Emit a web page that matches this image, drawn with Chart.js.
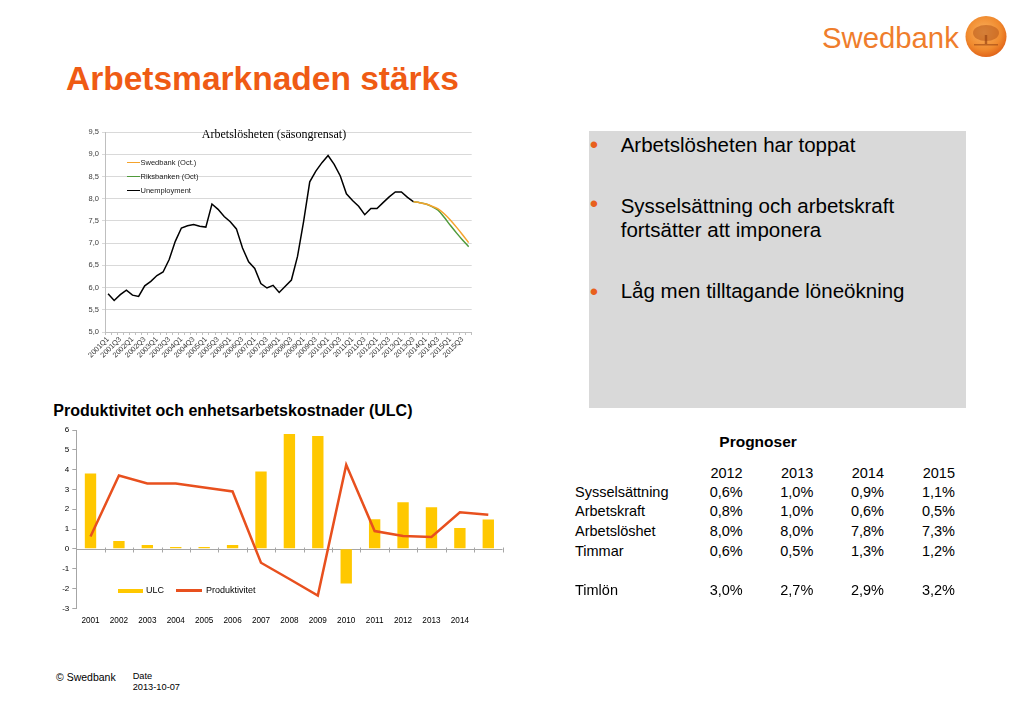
<!DOCTYPE html>
<html><head><meta charset="utf-8">
<script src="https://cdn.jsdelivr.net/npm/chart.js@4/dist/chart.umd.min.js"></script>
<style>
html,body{margin:0;padding:0;background:#fff;}
body{width:1023px;height:708px;position:relative;overflow:hidden;font-family:"Liberation Sans",Arial,sans-serif;color:#000;}
.abs{position:absolute;white-space:nowrap;line-height:1;}
canvas{position:absolute;}
.bul{color:#E8601C;font-size:24px;}
.bt{font-size:20.5px;}
.tb{font-size:14.5px;}
.num{text-align:right;width:60px;}
.lg{font-size:7.5px;color:#222;}
.lgl{position:absolute;height:1.5px;width:13px;}
</style></head>
<body>
<!-- Logo -->
<div class="abs" style="left:822px;top:23px;font-size:29.3px;color:#EF7D2C;">Swedbank</div>
<svg style="position:absolute;left:964px;top:15px" width="44" height="44" viewBox="0 0 44 44">
  <defs><radialGradient id="lg1" cx="45%" cy="40%" r="60%"><stop offset="0" stop-color="#FBB25E"/><stop offset="0.7" stop-color="#F08A2E"/><stop offset="1" stop-color="#E2661A"/></radialGradient></defs>
  <circle cx="22" cy="21.5" r="20.5" fill="url(#lg1)"/>
  <ellipse cx="22" cy="18" rx="13" ry="8" fill="#B5561A" opacity="0.55"/>
  <rect x="20.8" y="20" width="2.4" height="9" fill="#9A4512" opacity="0.7"/>
  <rect x="10" y="29" width="24" height="1.5" fill="#9A4512" opacity="0.6"/>
</svg>

<div class="abs" style="left:66px;top:61.6px;font-size:33.5px;font-weight:bold;color:#EF5B14;">Arbetsmarknaden stärks</div>

<!-- gray box with bullets -->
<div style="position:absolute;left:589px;top:131px;width:377px;height:277px;background:#D9D9D9;"></div>
<div class="abs bul" style="left:589.7px;top:133.4px;">•</div>
<div class="abs bt" style="left:620.7px;top:134.6px;">Arbetslösheten har toppat</div>
<div class="abs bul" style="left:589.7px;top:192.4px;">•</div>
<div class="abs bt" style="left:620.7px;top:195.6px;">Sysselsättning och arbetskraft</div>
<div class="abs bt" style="left:620.7px;top:219.6px;">fortsätter att imponera</div>
<div class="abs bul" style="left:589.7px;top:279.8px;">•</div>
<div class="abs bt" style="left:620.7px;top:280.6px;">Låg men tilltagande löneökning</div>

<!-- top chart -->
<canvas id="c1" width="425" height="250" style="left:55px;top:120px;width:425px;height:250px;"></canvas>
<div class="abs" style="left:174px;top:127.6px;width:200px;text-align:center;font-family:'Liberation Serif',serif;font-size:12px;">Arbetslösheten (säsongrensat)</div>
<div id="leg1"></div>

<!-- bottom chart -->
<div class="abs" style="left:53.3px;top:403.2px;font-size:16px;font-weight:bold;">Produktivitet och enhetsarbetskostnader (ULC)</div>
<canvas id="c2" width="480" height="215" style="left:30px;top:420px;width:480px;height:215px;"></canvas>
<div style="position:absolute;left:118px;top:589px;width:25px;height:4px;background:#FFC800;"></div>
<div class="abs" style="left:146px;top:585.9px;font-size:9px;">ULC</div>
<div style="position:absolute;left:176px;top:589px;width:26px;height:2.5px;background:#E8501E;"></div>
<div class="abs" style="left:206px;top:585.9px;font-size:9px;">Produktivitet</div>

<!-- table -->
<div class="abs" style="left:719.3px;top:434.2px;font-size:15.5px;font-weight:bold;">Prognoser</div>
<div id="tbl"></div>

<!-- footer -->
<div class="abs" style="left:56px;top:672px;font-size:10.5px;">© Swedbank</div>
<div class="abs" style="left:132.7px;top:671.5px;font-size:9.25px;">Date</div>
<div class="abs" style="left:132.7px;top:682.9px;font-size:9.25px;">2013-10-07</div>

<script>
// ---------- Top chart data ----------
const quarters = ['2001Q1','2001Q2','2001Q3','2001Q4','2002Q1','2002Q2','2002Q3','2002Q4',
 '2003Q1','2003Q2','2003Q3','2003Q4','2004Q1','2004Q2','2004Q3','2004Q4',
 '2005Q1','2005Q2','2005Q3','2005Q4','2006Q1','2006Q2','2006Q3','2006Q4',
 '2007Q1','2007Q2','2007Q3','2007Q4','2008Q1','2008Q2','2008Q3','2008Q4',
 '2009Q1','2009Q2','2009Q3','2009Q4','2010Q1','2010Q2','2010Q3','2010Q4',
 '2011Q1','2011Q2','2011Q3','2011Q4','2012Q1','2012Q2','2012Q3','2012Q4',
 '2013Q1','2013Q2','2013Q3','2013Q4','2014Q1','2014Q2','2014Q3','2014Q4',
 '2015Q1','2015Q2','2015Q3','2015Q4'];
const unemployment = [5.86,5.71,5.84,5.94,5.83,5.80,6.04,6.14,6.27,6.35,6.63,7.04,
 7.34,7.39,7.42,7.38,7.36,7.88,7.76,7.60,7.48,7.32,6.89,6.58,6.43,6.09,5.99,6.05,
 5.89,6.03,6.17,6.70,7.49,8.38,8.62,8.81,8.97,8.77,8.51,8.11,7.96,7.83,7.64,7.78,
 7.78,7.91,8.04,8.15,8.15,8.03,7.93];
const forecastStart = '2013Q3';
const swedbankForecast = [7.93,7.91,7.88,7.83,7.77,7.66,7.52,7.36,7.19,7.01];
const riksbankForecast = [7.93,7.91,7.88,7.82,7.74,7.58,7.40,7.23,7.07,6.92];
const seriesNames = ['Swedbank  (Oct.)','Riksbanken (Oct)','Unemployment'];
const seriesColors = ['#F5A32C','#4F9A3A','#000000'];

// ---------- Bottom chart data ----------
const years = ['2001','2002','2003','2004','2005','2006','2007','2008','2009','2010','2011','2012','2013','2014',''];
const ulc = [3.8,0.4,0.2,0.1,0.1,0.2,3.9,5.8,5.7,-1.75,1.5,2.35,2.1,1.05,1.48];
const produktivitet = [0.62,3.7,3.3,3.3,3.1,2.9,-0.7,-1.52,-2.36,4.24,0.9,0.65,0.6,1.85,1.72];

// ---------- Table data ----------
const tableYears = ['2012','2013','2014','2015'];
const tableRows = ['Sysselsättning','Arbetskraft','Arbetslöshet','Timmar','Timlön'];
const sysselsattning = ['0,6%','1,0%','0,9%','1,1%'];
const arbetskraft = ['0,8%','1,0%','0,6%','0,5%'];
const arbetsloshet = ['8,0%','8,0%','7,8%','7,3%'];
const timmar = ['0,6%','0,5%','1,3%','1,2%'];
const timlon = ['3,0%','2,7%','2,9%','3,2%'];

// build table
(function(){
  const colRight = [742.7,813.3,884,955];
  const baselines = [497.3,516.5,536.5,556,595.7];
  const rowsData = [sysselsattning,arbetskraft,arbetsloshet,timmar,timlon];
  let html = '';
  tableYears.forEach((y,i)=>{ html += `<div class="abs tb num" style="left:${colRight[i]-60}px;top:${(478.3-12.27).toFixed(2)}px;">${y}</div>`; });
  tableRows.forEach((r,ri)=>{
    const top = (baselines[ri]-12.27).toFixed(2);
    html += `<div class="abs tb" style="left:575px;top:${top}px;">${r}</div>`;
    rowsData[ri].forEach((v,ci)=>{ html += `<div class="abs tb num" style="left:${colRight[ci]-60}px;top:${top}px;">${v}</div>`; });
  });
  document.getElementById('tbl').innerHTML = html;
  // legend top chart
  const ly = [162.5,176.5,190.5];
  let lh = '';
  seriesNames.forEach((n,i)=>{
    lh += `<div class="lgl" style="left:126.7px;top:${ly[i]-0.75}px;background:${seriesColors[i]};"></div>`;
    lh += `<div class="abs lg" style="left:140.5px;top:${(ly[i]+2.7-6.35).toFixed(2)}px;">${n}</div>`;
  });
  document.getElementById('leg1').innerHTML = lh;
})();

const startIdx = quarters.indexOf(forecastStart);
const pad = arr => Array(startIdx).fill(null).concat(arr);

Chart.defaults.font.family = "'Liberation Sans', Arial, sans-serif";

new Chart(document.getElementById('c1'), {
  type: 'line',
  data: {
    labels: quarters,
    datasets: [
      {label: seriesNames[0], data: pad(swedbankForecast), borderColor: seriesColors[0], borderWidth: 1.5, pointRadius: 0, tension: 0.3, fill: false},
      {label: seriesNames[1], data: pad(riksbankForecast), borderColor: seriesColors[1], borderWidth: 1.5, pointRadius: 0, tension: 0.3, fill: false},
      {label: seriesNames[2], data: unemployment, borderColor: seriesColors[2], borderWidth: 1.5, pointRadius: 0, tension: 0, fill: false}
    ]
  },
  options: {
    responsive: false, animation: false, devicePixelRatio: 1,
    layout: {padding: {top: 12, right: 8.3, left: 0, bottom: 0}},
    plugins: {legend: {display: false}, tooltip: {enabled: false}},
    scales: {
      x: {
        offset: true,
        grid: {display: true, drawOnChartArea: false, offset: true, tickLength: 3, color: '#bfbfbf'},
        border: {color: '#bfbfbf'},
        ticks: {autoSkip: false, maxRotation: 45, minRotation: 45, padding: 0, color: '#333', font: {size: 7.3},
          callback: (v, i) => (i % 2 === 0 ? quarters[i] : '')},
        afterFit: s => { s.height = 38; }
      },
      y: {
        min: 5, max: 9.5,
        ticks: {stepSize: 0.5, padding: 3, color: '#404040', font: {size: 7.5},
          callback: v => Number(v).toFixed(1).replace('.', ',')},
        grid: {color: '#d9d9d9', tickLength: 3},
        border: {color: '#bfbfbf'},
        afterFit: s => { s.width = 50; }
      }
    }
  }
});

const zeroAxis = {
  id: 'zeroAxis',
  beforeDatasetsDraw(chart) {
    const {ctx, chartArea, scales: {x, y}} = chart;
    const y0 = Math.round(y.getPixelForValue(0)) + 0.5;
    const n = chart.data.labels.length;
    const half = (x.getPixelForValue(1) - x.getPixelForValue(0)) / 2;
    ctx.save();
    ctx.strokeStyle = '#a6a6a6'; ctx.lineWidth = 1;
    ctx.beginPath();
    ctx.moveTo(chartArea.left, y0); ctx.lineTo(chartArea.right, y0);
    for (let i = 0; i <= n; i++) {
      const px = Math.round(x.getPixelForValue(0) - half + 2 * half * i) + 0.5;
      ctx.moveTo(px, y0 - 2); ctx.lineTo(px, y0 + 3);
    }
    ctx.stroke(); ctx.restore();
  }
};

new Chart(document.getElementById('c2'), {
  type: 'bar',
  data: {
    labels: years,
    datasets: [
      {type: 'bar', label: 'ULC', data: ulc, backgroundColor: '#FFC800', barPercentage: 0.4, categoryPercentage: 1, order: 1},
      {type: 'line', label: 'Produktivitet', data: produktivitet, borderColor: '#E8501E', borderWidth: 2.5, pointRadius: 0, tension: 0, order: 0}
    ]
  },
  plugins: [zeroAxis],
  options: {
    responsive: false, animation: false, devicePixelRatio: 1,
    layout: {padding: {top: 10, right: 7.5, left: 0, bottom: 0}},
    plugins: {legend: {display: false}, tooltip: {enabled: false}},
    scales: {
      x: {
        grid: {display: false, drawTicks: false}, border: {display: false},
        ticks: {padding: 8, color: '#000', font: {size: 8.2}, maxRotation: 0, autoSkip: false},
        afterFit: s => { s.height = 26.7; }
      },
      y: {
        min: -3, max: 6,
        ticks: {stepSize: 1, padding: 3, color: '#000', font: {size: 8}},
        grid: {drawOnChartArea: false, tickLength: 4, color: '#a6a6a6'},
        border: {color: '#a6a6a6'},
        afterFit: s => { s.width = 46.3; }
      }
    }
  }
});
</script>
</body></html>
